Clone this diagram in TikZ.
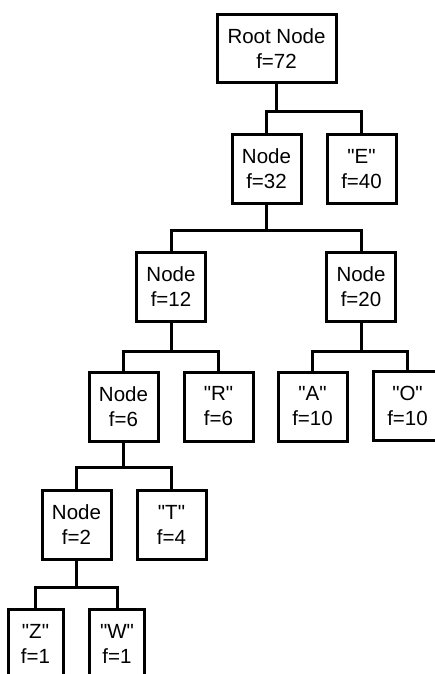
\documentclass[tikz,border=0pt]{standalone}
\usepackage{fontspec}
\setmainfont{Liberation Sans}[Ligatures=TeXOff]
\newcommand{\qq}[1]{"#1"}
\begin{document}
\begin{tikzpicture}[x=1pt,y=-1pt,
  box/.style={draw=black,line width=3pt,fill=white,minimum width=69pt,minimum height=69pt,
    inner sep=0pt,align=center,font=\fontsize{20.5}{25}\selectfont},
  widebox/.style={box,minimum width=119pt,minimum height=68pt},
  narrowbox/.style={box,minimum width=55pt},
  conn/.style={line width=3pt,line join=miter}]
\useasboundingbox (0,0) rectangle (435,674);
\clip (0,0) rectangle (435,674);
\node[widebox] (root) at (276.5,49) {Root Node\\f=72};
\node[box] (n32) at (266.5,169) {Node\\f=32};
\node[box] (E) at (361.5,169) {\qq{E}\\f=40};
\node[box] (n12) at (171,287) {Node\\f=12};
\node[box] (n20) at (361,287) {Node\\f=20};
\node[box] (n6) at (123.5,406.5) {Node\\f=6};
\node[box] (R) at (218.5,406.5) {\qq{R}\\f=6};
\node[box] (A) at (312.5,406.5) {\qq{A}\\f=10};
\node[box] (O) at (407.5,405.5) {\qq{O}\\f=10};
\node[box] (n2) at (76.5,524.5) {Node\\f=2};
\node[box] (T) at (171.5,524.5) {\qq{T}\\f=4};
\node[narrowbox] (Z) at (35.5,643.5) {\qq{Z}\\f=1};
\node[narrowbox] (W) at (117,643.5) {\qq{W}\\f=1};
\draw[conn] (root.south) -- ++(0,27) -| (n32.north);
\draw[conn] (root.south) -- ++(0,27) -| (E.north);
\draw[conn] (n32.south) -- ++(0,25) -| (n12.north);
\draw[conn] (n32.south) -- ++(0,25) -| (n20.north);
\draw[conn] (n12.south) -- ++(0,28) -| (n6.north);
\draw[conn] (n12.south) -- ++(0,28) -| (R.north);
\draw[conn] (n20.south) -- ++(0,28) -| (A.north);
\draw[conn] (n20.south) -- ++(0,28) -| (O.north);
\draw[conn] (n6.south) -- ++(0,25) -| (n2.north);
\draw[conn] (n6.south) -- ++(0,25) -| (T.north);
\draw[conn] (n2.south) -- ++(0,27) -| (Z.north);
\draw[conn] (n2.south) -- ++(0,27) -| (W.north);
\end{tikzpicture}
\end{document}
